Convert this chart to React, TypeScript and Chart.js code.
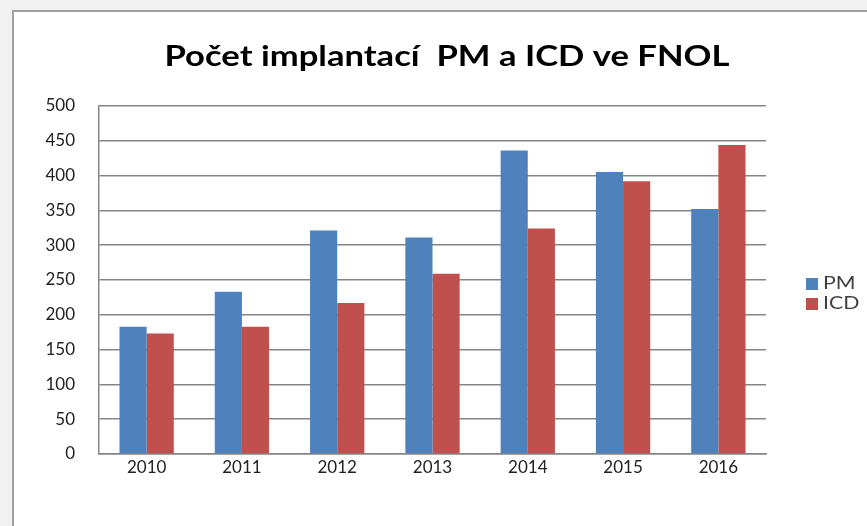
import React, { useEffect, useRef } from "react";
import { Chart, registerables } from "chart.js";

Chart.register(...registerables);

const years = ["2010", "2011", "2012", "2013", "2014", "2015", "2016"];
const pmValues = [183, 233, 321, 311, 436, 405, 352];
const icdValues = [173, 183, 217, 259, 324, 392, 444];
const yTicks = [0, 50, 100, 150, 200, 250, 300, 350, 400, 450, 500];
const titleText = "Počet implantací  PM a ICD ve FNOL";

const FONT = "Lato, 'Open Sans', sans-serif";

// Title drawn with a slight horizontal stretch, as in the reference image
const titlePlugin = {
  id: "stretchTitle",
  afterDraw(chart: any) {
    const ctx = chart.ctx;
    ctx.save();
    ctx.font = `bold 29px ${FONT}`;
    ctx.textBaseline = "middle";
    ctx.textAlign = "center";
    ctx.fillStyle = "#000000";
    const w = ctx.measureText(titleText).width;
    const sx = 565 / w;
    ctx.translate(447, 57);
    ctx.scale(sx, 1);
    ctx.fillText(titleText, 0, 0);
    ctx.restore();
  },
};

const legendPlugin = {
  id: "sideLegend",
  afterDraw(chart: any) {
    const ctx = chart.ctx;
    const area = chart.chartArea;
    const x0 = area.right + 40;
    const yStart = 284;
    const gap = 20;
    ctx.save();
    ctx.font = `17px ${FONT}`;
    ctx.textBaseline = "middle";
    ctx.textAlign = "left";
    chart.data.datasets.forEach((ds: any, i: number) => {
      const y = yStart + i * gap;
      ctx.fillStyle = ds.backgroundColor;
      ctx.fillRect(x0, y - 6, 12, 12);
      ctx.save();
      ctx.translate(x0 + 17, y);
      ctx.scale(1.25, 1);
      ctx.fillStyle = "#404040";
      ctx.fillText(ds.label, 0, 0);
      ctx.restore();
    });
    ctx.restore();
  },
};

export default function App() {
  const ref = useRef<HTMLCanvasElement | null>(null);

  useEffect(() => {
    document.body.style.margin = "0";
    const canvas = ref.current;
    if (!canvas) return;
    const chart = new Chart(canvas, {
      type: "bar",
      data: {
        labels: years,
        datasets: [
          { label: "PM", data: pmValues, backgroundColor: "#4F81BD", borderWidth: 0 },
          { label: "ICD", data: icdValues, backgroundColor: "#C0504D", borderWidth: 0 },
        ],
      },
      options: {
        responsive: false,
        animation: false,
        layout: { padding: { left: 0, right: 101, top: 106, bottom: 0 } },
        datasets: {
          bar: { barPercentage: 1.0, categoryPercentage: 0.57 },
        },
        plugins: {
          legend: { display: false },
          tooltip: { enabled: false },
          title: { display: false },
        },
        scales: {
          x: {
            grid: { display: false, drawTicks: false },
            border: { display: true, color: "#858585", width: 1.5 },
            ticks: {
              color: "#222222",
              font: { family: FONT, size: 17 },
              padding: 3,
              autoSkip: false,
              maxRotation: 0,
            },
            afterFit(scale: any) {
              scale.height = 72;
            },
          },
          y: {
            min: 0,
            max: 500,
            afterBuildTicks(scale: any) {
              scale.ticks = yTicks.map((v) => ({ value: v }));
            },
            grid: { color: "#858585", lineWidth: 1.5, drawTicks: false },
            border: { display: true, color: "#858585", width: 1.5 },
            ticks: {
              color: "#222222",
              font: { family: FONT, size: 17 },
              padding: 24,
            },
            afterFit(scale: any) {
              scale.width = 99;
            },
          },
        },
      },
      plugins: [titlePlugin, legendPlugin],
    });
    return () => chart.destroy();
  }, []);

  return (
    <div
      style={{
        position: "relative",
        width: 867,
        height: 526,
        overflow: "hidden",
        background: "#f1f1f1",
      }}
    >
      <div
        style={{
          position: "absolute",
          left: 12,
          top: 10,
          width: 900,
          height: 600,
          border: "2px solid #a0a0a0",
          background: "#ffffff",
        }}
      />
      <canvas
        ref={ref}
        width={867}
        height={526}
        style={{ position: "absolute", left: 0, top: 0, width: 867, height: 526 }}
      />
    </div>
  );
}
